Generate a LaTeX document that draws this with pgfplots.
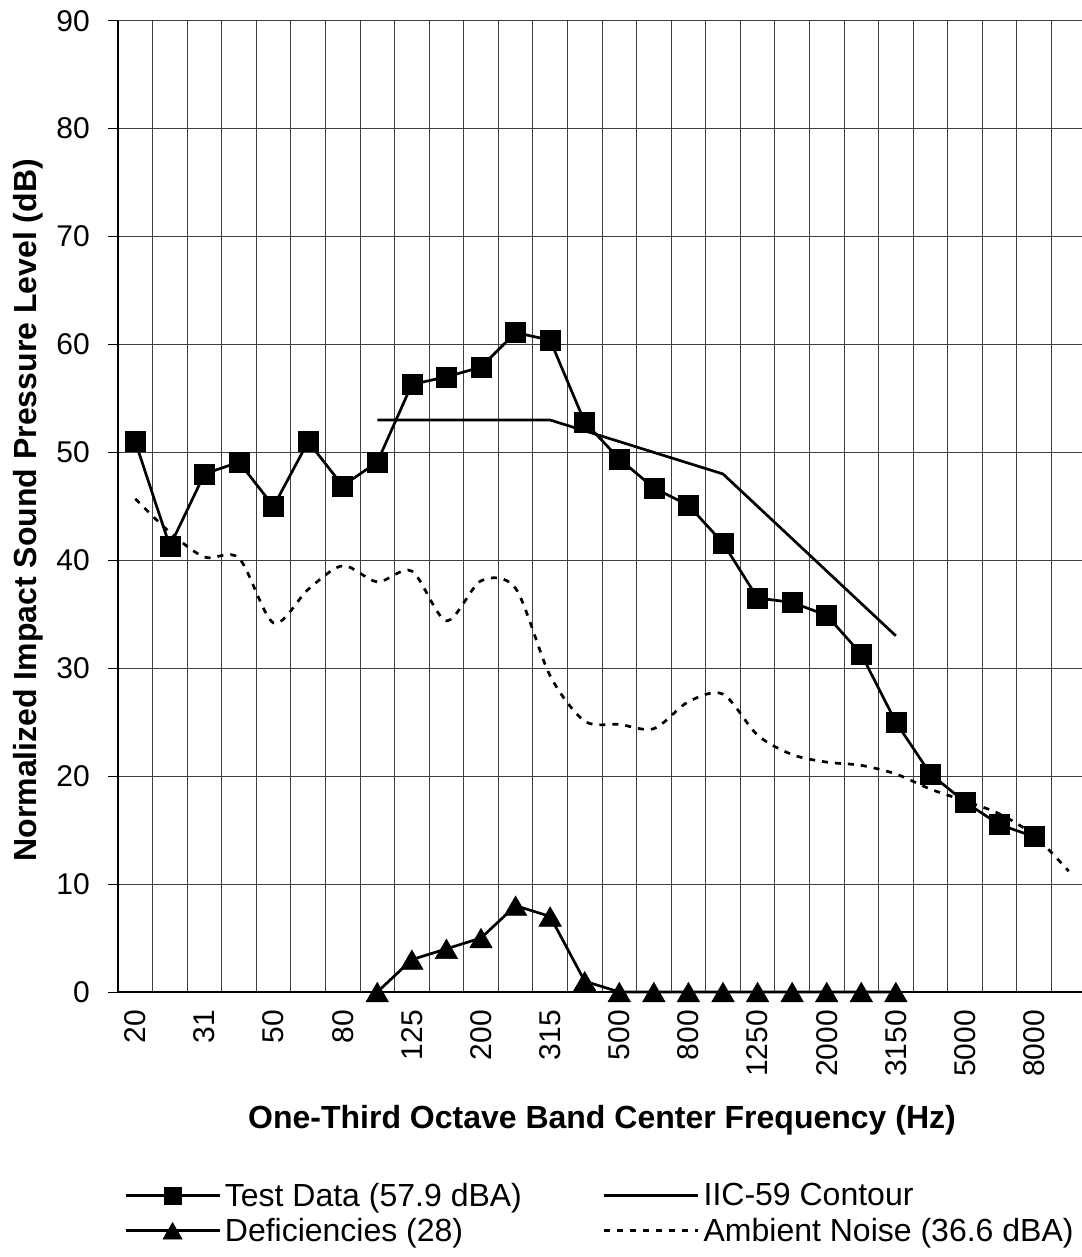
\documentclass[border=0pt]{standalone}
\usepackage{pgfplots}
\usepackage{pgfplotstable}
\pgfplotsset{compat=1.18}
\usepackage{fontspec}
\setmainfont{Liberation Sans}
\newcommand{\tickfont}{\fontsize{30}{36}\selectfont}
\newcommand{\legfont}{\fontsize{32}{38}\selectfont}
\newcommand{\labfont}{\fontsize{32}{38}\selectfont\bfseries}

\pgfplotstableread{
x y
0 51.0
1 41.3
2 48.0
3 49.1
4 45.0
5 51.0
6 46.9
7 49.1
8 56.3
9 57.0
10 57.9
11 61.1
12 60.4
13 52.8
14 49.4
15 46.7
16 45.1
17 41.6
18 36.5
19 36.1
20 34.9
21 31.3
22 25.0
23 20.2
24 17.6
25 15.5
26 14.4
}\testdata

\pgfplotstableread{
x y
7 53
8 53
9 53
10 53
11 53
12 53
13 52
14 51
15 50
16 49
17 48
18 45
19 42
20 39
21 36
22 33
}\contour

\pgfplotstableread{
x y
7 0
8 3
9 4
10 5
11 8
12 7
13 1
14 0
15 0
16 0
17 0
18 0
19 0
20 0
21 0
22 0
}\defic

\pgfplotstableread{
x y
0 45.7
1 42.6
2 40.3
3 40.2
4 34.2
5 37.3
6 39.5
7 38.0
8 39.0
9 34.4
10 38.1
11 37.4
12 29.3
13 25.1
14 24.8
15 24.4
16 26.9
17 27.6
18 23.8
19 22.0
20 21.3
21 21.0
22 20.2
23 18.8
24 17.7
25 16.5
26 14.5
27 11.2
}\ambient

\begin{document}
\begin{tikzpicture}
\begin{axis}[
  scale only axis,
  width=968pt, height=971.3pt,
  xmin=-0.5, xmax=27.5, ymin=0, ymax=90,
  clip=false,
  axis x line*=bottom, axis y line*=left,
  axis line style={line width=1.4pt, black},
  xtick={0,2,...,26},
  xticklabels={20,31,50,80,125,200,315,500,800,1250,2000,3150,5000,8000},
  minor xtick={-0.5,0.5,...,27.5},
  xminorgrids, ymajorgrids,
  ytick={0,10,...,90},
  grid style={black!75, line width=1pt},
  minor grid style={black!75, line width=1pt},
  tick align=outside,
  major tick length=10pt,
  minor tick length=0pt,
  ytick style={black, line width=1pt},
  xtick style={draw=none},
  tick label style={font=\tickfont},
  /pgf/number format/assume math mode=true,
  xticklabel style={rotate=90, anchor=east, inner sep=0pt},
  yticklabel style={anchor=east, inner sep=0pt},
  xticklabel shift=8pt,
  yticklabel shift=18pt,
  xlabel={One-Third Octave Band Center Frequency (Hz)},
  ylabel={Normalized Impact Sound Pressure Level (dB)},
  xlabel style={font=\labfont, at={(axis description cs:0.5,-0.141)}, anchor=base, inner sep=0pt},
  ylabel style={font=\labfont, at={(axis description cs:-0.0837,0.496)}, anchor=base, inner sep=0pt},
  legend columns=2,
  legend cell align=left,
  legend image code/.code={\draw[mark repeat=2,mark phase=2,#1] plot coordinates {(0pt,0pt) (47pt,0pt) (94pt,0pt)};},
  legend image post style={/tikz/every mark/.append style={scale=0.85}},
  legend style={draw=none, fill=none, font=\legfont,
    at={(axis description cs:0,0)}, anchor=north west, xshift=3pt, yshift=-186pt,
    row sep=4pt,
    nodes={inner sep=3pt},
    /tikz/every odd column/.append style={column sep=1pt},
    /tikz/every even column/.append style={column sep=78pt}},
]
\addplot[forget plot, black, line width=2.7pt, dash pattern=on 6pt off 7pt, smooth, tension=0.5] table[x=x,y=y] {\ambient};
\addplot[black, line width=2.7pt, mark=square*, mark size=10pt, mark options={solid, line width=0.5pt}] table[x=x,y=y] {\testdata};
\addlegendentry{Test Data (57.9 dBA)}
\addplot[black, line width=2.7pt] table[x=x,y=y] {\contour};
\addlegendentry{IIC-59 Contour}
\addplot[black, line width=2.7pt, mark=triangle*, mark size=13pt, mark options={solid, line width=0.5pt, yshift=-3.3pt}] table[x=x,y=y] {\defic};
\addlegendentry{Deficiencies (28)}
\addlegendimage{black, line width=2.7pt, dash pattern=on 6pt off 7pt}
\addlegendentry{Ambient Noise (36.6 dBA)}
\end{axis}
\pgfresetboundingbox
\path[use as bounding box] (-118pt,-265pt) rectangle (963pt,992pt);
\end{tikzpicture}
\end{document}
